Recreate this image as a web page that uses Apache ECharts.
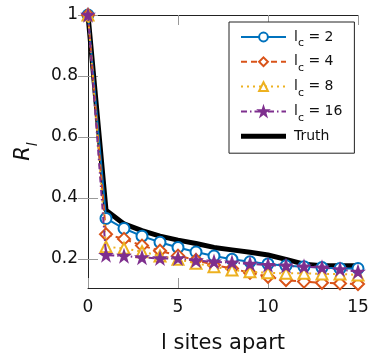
<!DOCTYPE html>
<html><head><meta charset="utf-8">
<script src="https://cdn.jsdelivr.net/npm/echarts@6/dist/echarts.min.js"></script>
<style>html,body{margin:0;padding:0;background:#fff}#c{width:370px;height:353px}</style>
</head><body><div id="c"></div>
<script>
const sites = [0,1,2,3,4,5,6,7,8,9,10,11,12,13,14,15];
const lc2  = [1,0.333,0.300,0.275,0.255,0.238,0.223,0.210,0.199,0.191,0.184,0.178,0.175,0.172,0.169,0.169];
const lc4  = [1,0.281,0.266,0.244,0.227,0.211,0.197,0.180,0.169,0.155,0.142,0.131,0.126,0.122,0.120,0.118];
const lc8  = [1,0.240,0.235,0.224,0.210,0.199,0.186,0.175,0.164,0.158,0.155,0.153,0.153,0.151,0.151,0.148];
const lc16 = [1,0.213,0.210,0.205,0.202,0.202,0.195,0.191,0.188,0.184,0.180,0.178,0.175,0.172,0.166,0.158];
const truth= [1,0.360,0.315,0.293,0.275,0.262,0.251,0.238,0.230,0.222,0.213,0.199,0.183,0.178,0.178,0.178];
const yTicks = [0.2,0.4,0.6,0.8,1];
const xTicks = [0,5,10,15];
const seriesNames = ['l_c = 2','l_c = 4','l_c = 8','l_c = 16','Truth'];

const FONT = 'DejaVu Sans';
const star = 'path://M50,0 L61.8,35.4 L99,35.4 L69,57.3 L80.4,92.7 L50,70.8 L19.6,92.7 L31,57.3 L1,35.4 L38.2,35.4 Z';
const pair = a => sites.map((x,i)=>[x,a[i]]);
const chart = echarts.init(document.getElementById('c'), null, {renderer:'canvas'});
const tickStyle = {inside:true, length:10, lineStyle:{color:'#999', width:1}};
const YMIN = 0.105, YMAX = 1;
function mk(name, data, color, symbol, size, dash, z){
  return {name, type:'line', data:pair(data), symbol, symbolSize:size, clip:false, z,
    lineStyle:{color, width:2, type:dash}, itemStyle:{color: symbol===star?color:'#fff', borderColor:color, borderWidth:2},
    emphasis:{disabled:true}};
}
const legendData = seriesNames.map(n => n === 'Truth'
  ? {name:n, icon:'path://M0,0 H45 V5 H0 Z', itemStyle:{color:'#000', borderWidth:0}}
  : {name:n});
chart.setOption({
  animation:false,
  backgroundColor:'#fff',
  grid:{left:88, right:12, top:15, bottom:65, containLabel:false, outerBoundsMode:'none'},
  xAxis:[{type:'value', min:0, max:15, interval:5, position:'bottom',
    axisLine:{lineStyle:{color:'#222', width:1}}, axisTick:tickStyle, splitLine:{show:false},
    axisLabel:{color:'#111', fontFamily:FONT, fontSize:17, margin:11},
    name:'l sites apart', nameLocation:'middle', nameGap:45,
    nameTextStyle:{color:'#111', fontFamily:FONT, fontSize:21}},
   {type:'value', min:0, max:15, interval:5, position:'top',
    axisLine:{lineStyle:{color:'#222', width:1}}, axisTick:tickStyle, splitLine:{show:false}, axisLabel:{show:false}}],
  yAxis:[{type:'value', min:YMIN, max:YMAX, position:'left',
    axisLine:{show:true, lineStyle:{color:'#222', width:1}},
    axisTick:Object.assign({customValues:yTicks}, tickStyle), splitLine:{show:false},
    axisLabel:{customValues:yTicks, color:'#111', fontFamily:FONT, fontSize:17, margin:10},
    name:'{r|R}{s|l}', nameLocation:'middle', nameGap:52, nameRotate:90,
    nameTextStyle:{rich:{r:{fontFamily:FONT, fontStyle:'italic', fontSize:21, color:'#111'},
                         s:{fontFamily:FONT, fontStyle:'italic', fontSize:14, color:'#111', verticalAlign:'bottom', padding:[0,0,-6,0]}}}},
   {type:'value', min:YMIN, max:YMAX, position:'right',
    axisLine:{show:true, lineStyle:{color:'#222', width:1}},
    axisTick:Object.assign({customValues:yTicks}, tickStyle), splitLine:{show:false}, axisLabel:{show:false}}],
  legend:{orient:'vertical', left:229, top:22, padding:[8,12,10,11], itemWidth:45, itemHeight:11, itemGap:5.8,
    borderColor:'#222', borderWidth:1, backgroundColor:'#fff', data:legendData, selectedMode:false,
    formatter: n => n.replace('l_c','l{s|c}'),
    textStyle:{fontFamily:FONT, fontSize:14, lineHeight:14, color:'#111', padding:[0,0,0,3],
      rich:{s:{fontFamily:FONT, fontSize:11, lineHeight:14, color:'#111', verticalAlign:'bottom', padding:[0,0,-5,0]}}}},
  series:[
    {name:'Truth', type:'line', data:pair(truth), symbol:'none', z:1, clip:false,
      lineStyle:{color:'#000', width:5}, itemStyle:{color:'#000'}, emphasis:{disabled:true}},
    mk('l_c = 2', lc2, '#0072BD', 'circle', 11, 'solid', 2),
    mk('l_c = 4', lc4, '#D95319', 'diamond', 12, [6,4], 3),
    mk('l_c = 8', lc8, '#EDB120', 'triangle', 11, [2,4], 4),
    mk('l_c = 16', lc16, '#7E2F8E', star, 10, [6,3,1.5,3], 5)
  ]
});
</script></body></html>
